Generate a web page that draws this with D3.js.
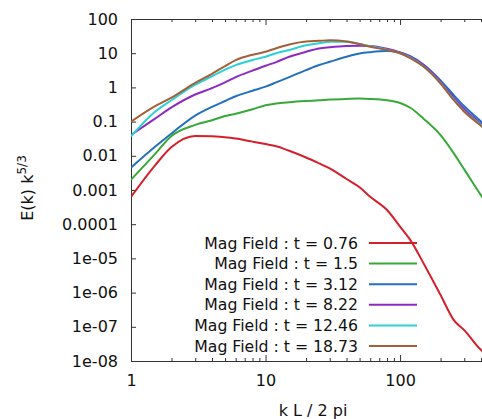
<!DOCTYPE html>
<html>
<head>
<meta charset="utf-8">
<script src="https://cdn.jsdelivr.net/npm/d3@7"></script>
<style>
  html, body { margin: 0; padding: 0; background: #fff; }
  svg { display: block; font-family: "DejaVu Sans", sans-serif; }
</style>
</head>
<body>
<svg id="chart" width="482" height="419"></svg>
<script>
// ---- data ----
const kValues = [1, 1.5, 2, 3, 4, 5, 6, 8, 10, 12, 15, 20, 25, 30, 40, 50, 60, 80, 100, 120, 150, 200, 250, 300, 400, 512];
const seriesNames = ["Mag Field : t = 0.76", "Mag Field : t = 1.5", "Mag Field : t = 3.12", "Mag Field : t = 8.22", "Mag Field : t = 12.46", "Mag Field : t = 18.73"];
const seriesColors = ["#d4202c", "#38a838", "#2470c0", "#8c2ac4", "#2cd2d2", "#a0603a"];
const magT076  = [0.00063, 0.0051, 0.018, 0.038, 0.037, 0.035, 0.032, 0.026, 0.022, 0.019, 0.014, 0.0089, 0.006, 0.0043, 0.0021, 0.0012, 0.00063, 0.00026, 8.5e-5, 3.3e-5, 7e-6, 8.5e-7, 1.6e-7, 8e-8, 2.1e-8, 1.2e-8];
const magT15   = [0.002, 0.011, 0.038, 0.08, 0.11, 0.145, 0.17, 0.23, 0.3, 0.34, 0.37, 0.4, 0.42, 0.44, 0.46, 0.47, 0.46, 0.42, 0.35, 0.25, 0.12, 0.04, 0.012, 0.004, 0.0007, 0.0002];
const magT312  = [0.0045, 0.018, 0.045, 0.15, 0.27, 0.4, 0.55, 0.8, 1.05, 1.4, 2.0, 3.2, 4.5, 5.6, 7.9, 9.8, 10.7, 11.5, 10.5, 8.0, 4.6, 1.6, 0.6, 0.28, 0.1, 0.04];
const magT822  = [0.041, 0.12, 0.26, 0.62, 0.95, 1.4, 2.0, 3.1, 4.3, 5.5, 7.9, 11, 13.8, 14.9, 16.2, 16.5, 16.3, 13.5, 10.5, 7.8, 4.4, 1.45, 0.5, 0.23, 0.085, 0.035];
const magT1246 = [0.037, 0.19, 0.42, 1.2, 2.1, 3.3, 4.5, 6.3, 7.9, 10, 12.4, 17, 19.6, 21.5, 21.5, 18.5, 16, 12.6, 10, 7.3, 4.1, 1.35, 0.45, 0.2, 0.08, 0.033];
const magT1873 = [0.1, 0.28, 0.5, 1.35, 2.5, 4.2, 6.3, 9.0, 11, 14, 18, 22, 23, 23.8, 22, 18.5, 15.5, 12.4, 10, 7.1, 4.0, 1.3, 0.43, 0.195, 0.075, 0.03];
const seriesValues = [magT076, magT15, magT312, magT822, magT1246, magT1873];
const xTickValues = [1, 10, 100];
const xTickLabels = ["1", "10", "100"];
const yTickValues = [100, 10, 1, 0.1, 0.01, 0.001, 0.0001, 1e-5, 1e-6, 1e-7, 1e-8];
const yTickLabels = ["100", "10", "1", "0.1", "0.01", "0.001", "0.0001", "1e-05", "1e-06", "1e-07", "1e-08"];
const xLabel = "k L / 2 pi";
const yLabelMain = "E(k) k";
const yLabelSup = "5/3";

// ---- layout ----
const svg = d3.select("#chart");
const pLeft = 131, pTop = 19, pBottom = 361, pRight = 495.5;
const x = d3.scaleLog().domain([1, 512]).range([pLeft, pRight]);
const y = d3.scaleLog().domain([1e-8, 100]).range([pBottom, pTop]);
const axisColor = "#333";

svg.append("defs").append("clipPath").attr("id", "plotclip")
  .append("rect").attr("x", pLeft).attr("y", pTop).attr("width", pRight - pLeft).attr("height", pBottom - pTop);

// minor x ticks
const minorX = [];
for (let d = 1; d < 1000; d *= 10) for (let m = 2; m <= 9; m++) if (d * m <= 512) minorX.push(d * m);

// bottom axis
svg.append("g").attr("transform", `translate(0,${pBottom})`)
  .call(d3.axisBottom(x).tickValues(xTickValues).tickFormat((d, i) => xTickLabels[i])
    .tickSizeInner(-6).tickSizeOuter(0).tickPadding(14));
svg.append("g").attr("transform", `translate(0,${pBottom})`)
  .call(d3.axisBottom(x).tickValues(minorX).tickFormat("").tickSizeInner(-3).tickSizeOuter(0))
  .select(".domain").remove();

// top axis
svg.append("g").attr("transform", `translate(0,${pTop})`)
  .call(d3.axisTop(x).tickValues(xTickValues).tickFormat("").tickSizeInner(-6).tickSizeOuter(0));
svg.append("g").attr("transform", `translate(0,${pTop})`)
  .call(d3.axisTop(x).tickValues(minorX).tickFormat("").tickSizeInner(-3).tickSizeOuter(0))
  .select(".domain").remove();

// left axis
svg.append("g").attr("transform", `translate(${pLeft},0)`)
  .call(d3.axisLeft(y).tickValues(yTickValues).tickFormat((d, i) => yTickLabels[i])
    .tickSizeInner(-5).tickSizeOuter(0).tickPadding(13));

svg.selectAll(".domain, .tick line").attr("stroke", axisColor).attr("stroke-width", 1);
svg.selectAll(".tick text").attr("font-size", 16).attr("fill", "#111")
  .attr("font-family", "DejaVu Sans, sans-serif");

// axis titles
svg.append("text").attr("x", 313).attr("y", 416).attr("text-anchor", "middle")
  .attr("font-size", 16).attr("fill", "#111").text(xLabel);
const yl = svg.append("text").attr("transform", "translate(33,188) rotate(-90)")
  .attr("text-anchor", "middle").attr("font-size", 16).attr("fill", "#111");
yl.append("tspan").text(yLabelMain);
yl.append("tspan").attr("dy", -7).attr("font-size", 12).text(yLabelSup);

// lines
const line = d3.line().x(d => x(d[0])).y(d => y(d[1])).curve(d3.curveMonotoneX);
const plot = svg.append("g").attr("clip-path", "url(#plotclip)");
seriesValues.forEach((vals, i) => {
  plot.append("path").datum(kValues.map((k, j) => [k, vals[j]]))
    .attr("fill", "none").attr("stroke", seriesColors[i]).attr("stroke-width", 2)
    .attr("d", line);
});

// legend
const legend = svg.append("g");
seriesNames.forEach((name, i) => {
  const ly = 243 + i * 20.6;
  legend.append("text").attr("x", 358).attr("y", ly + 5.5).attr("text-anchor", "end")
    .attr("font-size", 15.7).attr("fill", "#111").text(name);
  legend.append("line").attr("x1", 369).attr("x2", 417).attr("y1", ly).attr("y2", ly)
    .attr("stroke", seriesColors[i]).attr("stroke-width", 2);
});
</script>
</body>
</html>
